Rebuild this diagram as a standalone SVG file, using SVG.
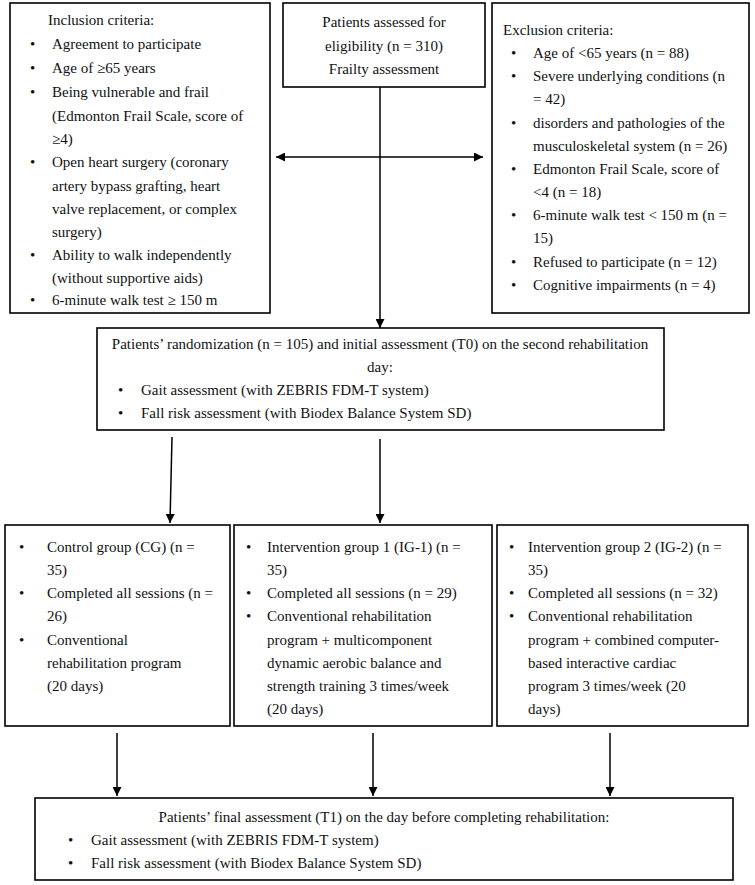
<svg xmlns="http://www.w3.org/2000/svg" width="755" height="885" viewBox="0 0 755 885">
<style>
.box{fill:#fff;stroke:#000;stroke-width:1.6}
text{font-family:"Liberation Serif","Times New Roman",serif;font-size:15px;fill:#111}
.c{text-anchor:middle}
.ln{stroke:#000;stroke-width:1.5;fill:none}
</style>
<defs>
<marker id="ah" viewBox="0 0 10 10" refX="10" refY="5" markerWidth="10" markerHeight="9" orient="auto-start-reverse" markerUnits="userSpaceOnUse">
<path d="M0,0 L10,5 L0,10 z" fill="#000"/>
</marker>
</defs>
<rect width="755" height="885" fill="#fff"/>
<g id="connectors">
<line class="ln" x1="380" y1="87" x2="380" y2="328" marker-end="url(#ah)"/>
<line class="ln" x1="276" y1="157" x2="483" y2="157" marker-start="url(#ah)" marker-end="url(#ah)"/>
<line class="ln" x1="172" y1="437" x2="170" y2="523" marker-end="url(#ah)"/>
<line class="ln" x1="380" y1="439" x2="380" y2="523" marker-end="url(#ah)"/>
<line class="ln" x1="117" y1="733" x2="117" y2="796" marker-end="url(#ah)"/>
<line class="ln" x1="373" y1="733" x2="373" y2="796" marker-end="url(#ah)"/>
<line class="ln" x1="610" y1="733" x2="610" y2="796" marker-end="url(#ah)"/>
</g>
<g id="inclusion">
<rect class="box" x="10" y="3" width="260" height="310"/>
<text x="48" y="25">Inclusion criteria:</text>
<text x="30" y="49">•</text><text x="52" y="49">Agreement to participate</text>
<text x="30" y="73">•</text><text x="52" y="73">Age of ≥65 years</text>
<text x="30" y="97">•</text><text x="52" y="97">Being vulnerable and frail</text>
<text x="52" y="121">(Edmonton Frail Scale, score of</text>
<text x="52" y="144">≥4)</text>
<text x="30" y="167">•</text><text x="52" y="167">Open heart surgery (coronary</text>
<text x="52" y="191">artery bypass grafting, heart</text>
<text x="52" y="214">valve replacement, or complex</text>
<text x="52" y="237">surgery)</text>
<text x="30" y="260">•</text><text x="52" y="260">Ability to walk independently</text>
<text x="52" y="283">(without supportive aids)</text>
<text x="30" y="305">•</text><text x="52" y="305">6-minute walk test ≥ 150 m</text>
</g>
<g id="assessed">
<rect class="box" x="283" y="3" width="202" height="84"/>
<text class="c" x="384" y="27">Patients assessed for</text>
<text class="c" x="384" y="51">eligibility (n = 310)</text>
<text class="c" x="384" y="74">Frailty assessment</text>
</g>
<g id="exclusion">
<rect class="box" x="492" y="3" width="257" height="310"/>
<text x="503" y="35">Exclusion criteria:</text>
<text x="511" y="58">•</text><text x="533" y="58">Age of &lt;65 years (n = 88)</text>
<text x="511" y="81">•</text><text x="533" y="81">Severe underlying conditions (n</text>
<text x="533" y="104">= 42)</text>
<text x="511" y="128">•</text><text x="533" y="128">disorders and pathologies of the</text>
<text x="533" y="151">musculoskeletal system (n = 26)</text>
<text x="511" y="174">•</text><text x="533" y="174">Edmonton Frail Scale, score of</text>
<text x="533" y="197">&lt;4 (n = 18)</text>
<text x="511" y="220">•</text><text x="533" y="220">6-minute walk test &lt; 150 m (n =</text>
<text x="533" y="243">15)</text>
<text x="511" y="267">•</text><text x="533" y="267">Refused to participate (n = 12)</text>
<text x="511" y="290">•</text><text x="533" y="290">Cognitive impairments (n = 4)</text>
</g>
<g id="randomization">
<rect class="box" x="97" y="328" width="567" height="102"/>
<text class="c" x="380" y="349">Patients’ randomization (n = 105) and initial assessment (T0) on the second rehabilitation</text>
<text class="c" x="380" y="372">day:</text>
<text x="118" y="395">•</text><text x="141" y="395">Gait assessment (with ZEBRIS FDM-T system)</text>
<text x="118" y="418">•</text><text x="141" y="418">Fall risk assessment (with Biodex Balance System SD)</text>
</g>
<g id="cg">
<rect class="box" x="5" y="525" width="225" height="201"/>
<text x="19" y="552">•</text><text x="47" y="552">Control group (CG) (n =</text>
<text x="47" y="575">35)</text>
<text x="19" y="598">•</text><text x="47" y="598">Completed all sessions (n =</text>
<text x="47" y="621">26)</text>
<text x="19" y="645">•</text><text x="47" y="645">Conventional</text>
<text x="47" y="668">rehabilitation program</text>
<text x="47" y="691">(20 days)</text>
</g>
<g id="ig1">
<rect class="box" x="234" y="525" width="258" height="201"/>
<text x="246" y="552">•</text><text x="267" y="552">Intervention group 1 (IG-1) (n =</text>
<text x="267" y="575">35)</text>
<text x="246" y="598">•</text><text x="267" y="598">Completed all sessions (n = 29)</text>
<text x="246" y="621">•</text><text x="267" y="621">Conventional rehabilitation</text>
<text x="267" y="645">program + multicomponent</text>
<text x="267" y="668">dynamic aerobic balance and</text>
<text x="267" y="691">strength training 3 times/week</text>
<text x="267" y="714">(20 days)</text>
</g>
<g id="ig2">
<rect class="box" x="497" y="525" width="251" height="201"/>
<text x="509" y="552">•</text><text x="528" y="552">Intervention group 2 (IG-2) (n =</text>
<text x="528" y="575">35)</text>
<text x="509" y="598">•</text><text x="528" y="598">Completed all sessions (n = 32)</text>
<text x="509" y="621">•</text><text x="528" y="621">Conventional rehabilitation</text>
<text x="528" y="645">program + combined computer-</text>
<text x="528" y="668">based interactive cardiac</text>
<text x="528" y="691">program 3 times/week (20</text>
<text x="528" y="714">days)</text>
</g>
<g id="final">
<rect class="box" x="35" y="798" width="698" height="82"/>
<text class="c" x="384" y="822">Patients’ final assessment (T1) on the day before completing rehabilitation:</text>
<text x="68" y="845">•</text><text x="91" y="845">Gait assessment (with ZEBRIS FDM-T system)</text>
<text x="68" y="868">•</text><text x="91" y="868">Fall risk assessment (with Biodex Balance System SD)</text>
</g>
</svg>
